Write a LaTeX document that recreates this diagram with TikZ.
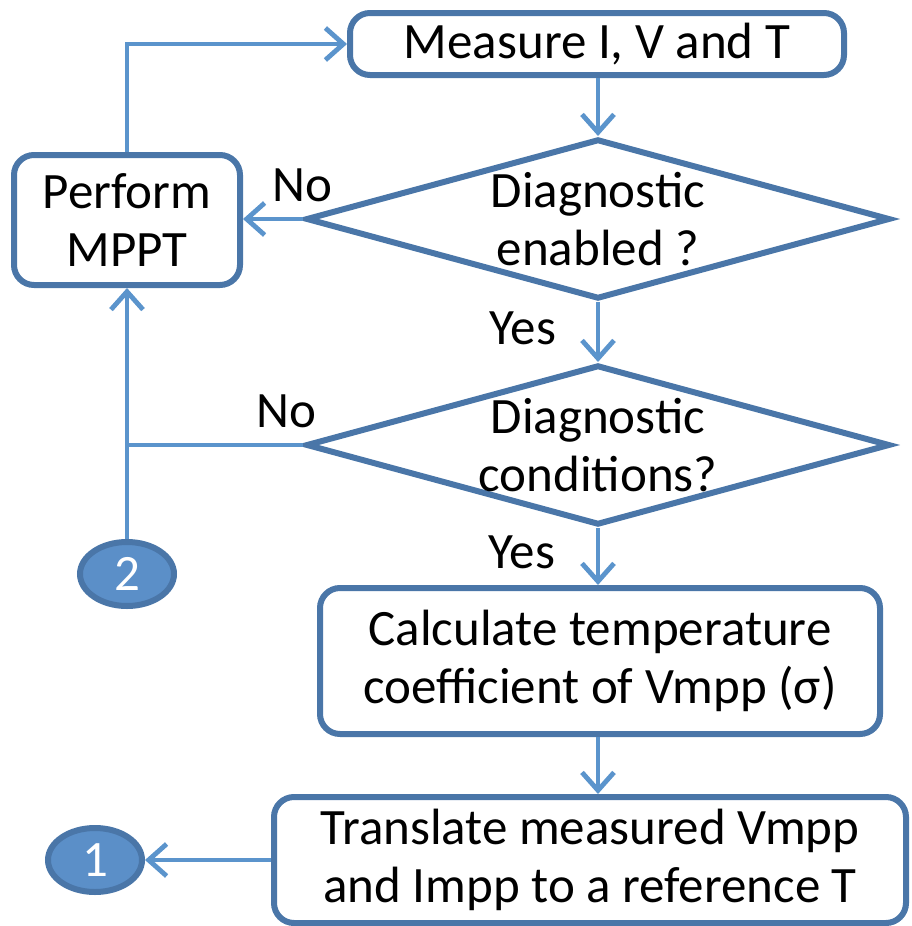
\documentclass[tikz,border=0pt]{standalone}
\usepackage{fontspec}
\setmainfont{Carlito}
\usepackage{tikz}
\usetikzlibrary{shapes.geometric,arrows.meta}
\definecolor{boxblue}{HTML}{4A76A8}
\definecolor{linkblue}{HTML}{5B94CC}
\definecolor{dotblue}{HTML}{5B8FC8}

\begin{document}
\begin{tikzpicture}[x=0.5pt,y=-0.5pt]
\useasboundingbox (0,0) rectangle (911,926);

\tikzstyle{every node} = [font=\fontsize{25.5}{29}\selectfont,align=center,inner sep=0pt]
\tikzstyle{stepbox} = [draw=boxblue,line width=3pt,rounded corners=10pt,fill=white]
\tikzstyle{decision} = [draw=boxblue,line width=3pt,diamond,aspect=3.65,inner sep=-10pt,
        minimum width=292pt,minimum height=80pt]
\tikzstyle{onpage} = [draw=boxblue,line width=3pt,ellipse,fill=dotblue,text=white,
        minimum width=47pt,minimum height=32pt]
\tikzstyle{link} = [draw=linkblue,line width=2.4pt]
\tikzstyle{arrow} = [link,-{Straight Barb[length=9pt,width=16pt]}]

\begin{scope}
\path (597,44) node[stepbox,minimum width=247pt,minimum height=31pt] (meas) {Measure I, V and T};
\path (127,220) node[stepbox,minimum width=113pt,minimum height=65pt] (perf) {Perform\\MPPT};
\path (598,219) node[decision] (dia1) {Diagnostic\\enabled ?};
\path (598,445) node[decision] (dia2) {Diagnostic\\conditions?};
\path (600,661) node[stepbox,minimum width=280pt,minimum height=73pt] (calc) {Calculate temperature\\coefficient of Vmpp (σ)};
\path (590,860) node[stepbox,minimum width=316pt,minimum height=63pt] (trans) {Translate measured Vmpp\\and Impp to a reference T};
\path (127,574) node[onpage] (c2) {2};
\path (95,860) node[onpage] (c1) {1};
\end{scope}

% branch labels
\path (302,185) node (no1) {No};
\path (523,328) node (yes1) {Yes};
\path (286,411) node (no2) {No};
\path (522,552) node (yes2) {Yes};

\draw[arrow] (meas.south -| dia1.north) -- (dia1.north);
\draw[arrow] (dia1.west) -- (dia1.west -| perf.east);
\draw[arrow] (dia1.south) -- (dia2.north);
\draw[link] (dia2.west) -- (dia2.west -| perf.south);
\draw[arrow] (c2.north) -- (perf.south);
\draw[arrow] (perf.north) |- (meas.west);
\draw[arrow] (dia2.south) -- (dia2.south |- calc.north);
\draw[arrow] (calc.south -| dia2.south) -- (dia2.south |- trans.north);
\draw[arrow] (trans.west) -- (c1.east);

\end{tikzpicture}
\end{document}
